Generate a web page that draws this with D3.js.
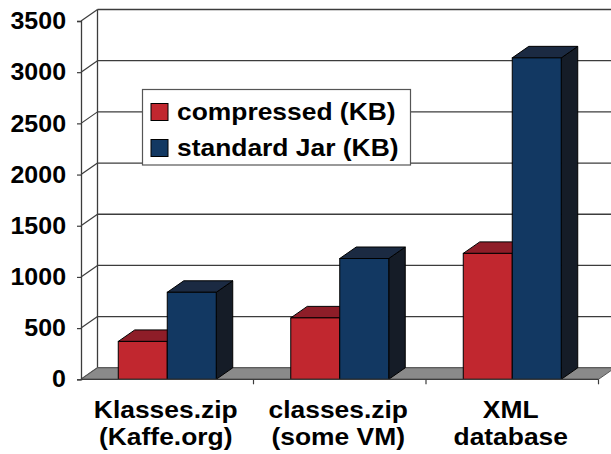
<!DOCTYPE html>
<html>
<head>
<meta charset="utf-8">
<script src="https://cdn.jsdelivr.net/npm/d3@7"></script>
<style>
  html, body { margin: 0; padding: 0; background: #fff; }
  svg { display: block; font-family: "Liberation Sans", Arial, sans-serif; font-weight: bold; }
</style>
</head>
<body>
<svg id="chart" width="611" height="454"></svg>
<script>
// File sizes in KB per archive
const categories = [["Klasses.zip", "(Kaffe.org)"], ["classes.zip", "(some VM)"], ["XML", "database"]];
const seriesNames = ["compressed (KB)", "standard Jar (KB)"];
const compressed = [370, 600, 1230];
const standardJar = [850, 1180, 3140];
const yTicks = [0, 500, 1000, 1500, 2000, 2500, 3000, 3500];

const colors = [
  { front: "#C1272F", top: "#8E1D28", side: "#5E1319" },
  { front: "#123862", top: "#1B2A42", side: "#151C27" }
];

const svg = d3.select("#chart");

// 3D depth offset of the wall / bars
const dx = 16.5, dy = -11.5;

const x = d3.scaleBand().domain(d3.range(categories.length)).range([81, 598.5]);
const y = d3.scaleLinear().domain([0, 3500]).range([379.3, 21]);
const barW = x.bandwidth() * 0.284;

const x0 = x.range()[0], x1 = x.range()[1];

// widen bold text slightly
function stretch(sel, f) {
  sel.each(function () {
    const w = this.getComputedTextLength();
    d3.select(this).attr("textLength", w * f).attr("lengthAdjust", "spacingAndGlyphs");
  });
}

// back wall gridlines
const g = svg.append("g");
g.selectAll("line.grid").data(yTicks).join("line")
  .attr("x1", x0 + dx).attr("x2", x1 + dx)
  .attr("y1", d => y(d) + dy).attr("y2", d => y(d) + dy)
  .attr("stroke", "#3c3c3c").attr("stroke-width", 1.3);

// diagonal ticks on the left wall
g.selectAll("line.diag").data(yTicks).join("line")
  .attr("x1", x0).attr("x2", x0 + dx)
  .attr("y1", d => y(d)).attr("y2", d => y(d) + dy)
  .attr("stroke", "#3c3c3c").attr("stroke-width", 1.2);

// back wall left edge
g.append("line")
  .attr("x1", x0 + dx).attr("x2", x0 + dx)
  .attr("y1", y(3500) + dy).attr("y2", y(0) + dy)
  .attr("stroke", "#3c3c3c").attr("stroke-width", 1.3);

// floor
g.append("path")
  .attr("d", `M${x0},${y(0)} L${x1},${y(0)} L${x1 + dx},${y(0) + dy} L${x0 + dx},${y(0) + dy} Z`)
  .attr("fill", "#8a8a8a").attr("stroke", "#555").attr("stroke-width", 1);

// bars
function bar3d(sel, bx, v, c) {
  const top = y(v), bottom = y(0);
  sel.append("path")
    .attr("d", `M${bx + barW},${bottom} L${bx + barW + dx},${bottom + dy} L${bx + barW + dx},${top + dy} L${bx + barW},${top} Z`)
    .attr("fill", c.side).attr("stroke", "#000").attr("stroke-width", 1).attr("stroke-linejoin", "round");
  sel.append("path")
    .attr("d", `M${bx},${top} L${bx + dx},${top + dy} L${bx + barW + dx},${top + dy} L${bx + barW},${top} Z`)
    .attr("fill", c.top).attr("stroke", "#000").attr("stroke-width", 1).attr("stroke-linejoin", "round");
  sel.append("rect")
    .attr("x", bx).attr("y", top).attr("width", barW).attr("height", bottom - top)
    .attr("fill", c.front).attr("stroke", "#000").attr("stroke-width", 1);
}

const bars = svg.append("g");
categories.forEach((cat, i) => {
  const cx = x(i) + x.bandwidth() / 2;
  bar3d(bars.append("g"), cx - barW, compressed[i], colors[0]);
  bar3d(bars.append("g"), cx, standardJar[i], colors[1]);
});

// front value axis
const yAxis = d3.axisLeft(y).tickValues(yTicks).tickSize(4).tickPadding(11).tickFormat(d3.format("d"));
const ya = svg.append("g").attr("transform", `translate(${x0},0)`).call(yAxis);
ya.select(".domain").attr("stroke", "#3c3c3c").attr("stroke-width", 1.3);
ya.selectAll(".tick line").attr("stroke", "#3c3c3c").attr("stroke-width", 1.2);
ya.selectAll(".tick text").attr("font-size", 24).attr("font-weight", "bold")
  .attr("font-family", "Liberation Sans, Arial, sans-serif").attr("fill", "#000")
  .call(stretch, 1.04);

// front category axis
const xEdges = d3.range(categories.length + 1).map(i => x0 + i * x.step());
svg.append("line").attr("x1", x0).attr("x2", x1).attr("y1", y(0)).attr("y2", y(0))
  .attr("stroke", "#3c3c3c").attr("stroke-width", 1.3);
svg.selectAll("line.ctick").data(xEdges.slice(1)).join("line")
  .attr("x1", d => d).attr("x2", d => d).attr("y1", y(0)).attr("y2", y(0) + 5)
  .attr("stroke", "#3c3c3c").attr("stroke-width", 1.2);

const labels = svg.append("g").attr("font-size", 24).attr("text-anchor", "middle").attr("fill", "#000");
categories.forEach((cat, i) => {
  const cx = x(i) + x.bandwidth() / 2 - 1.5;
  cat.forEach((line, j) => {
    labels.append("text").attr("x", cx).attr("y", 418 + j * 27).text(line);
  });
});
labels.selectAll("text").call(stretch, 1.1);

// legend
const lg = svg.append("g");
lg.append("rect").attr("x", 142.5).attr("y", 89.5).attr("width", 268).attr("height", 75.5)
  .attr("fill", "#fff").attr("stroke", "#555").attr("stroke-width", 1.2);
seriesNames.forEach((name, i) => {
  const yy = 103.5 + i * 36;
  lg.append("rect").attr("x", 151).attr("y", yy).attr("width", 17).attr("height", 17)
    .attr("fill", colors[i].front).attr("stroke", "#000").attr("stroke-width", 1);
  lg.append("text").attr("x", 177).attr("y", yy + 16).attr("font-size", 24).attr("fill", "#000").text(name);
});
lg.selectAll("text").call(stretch, 1.1);
</script>
</body>
</html>
